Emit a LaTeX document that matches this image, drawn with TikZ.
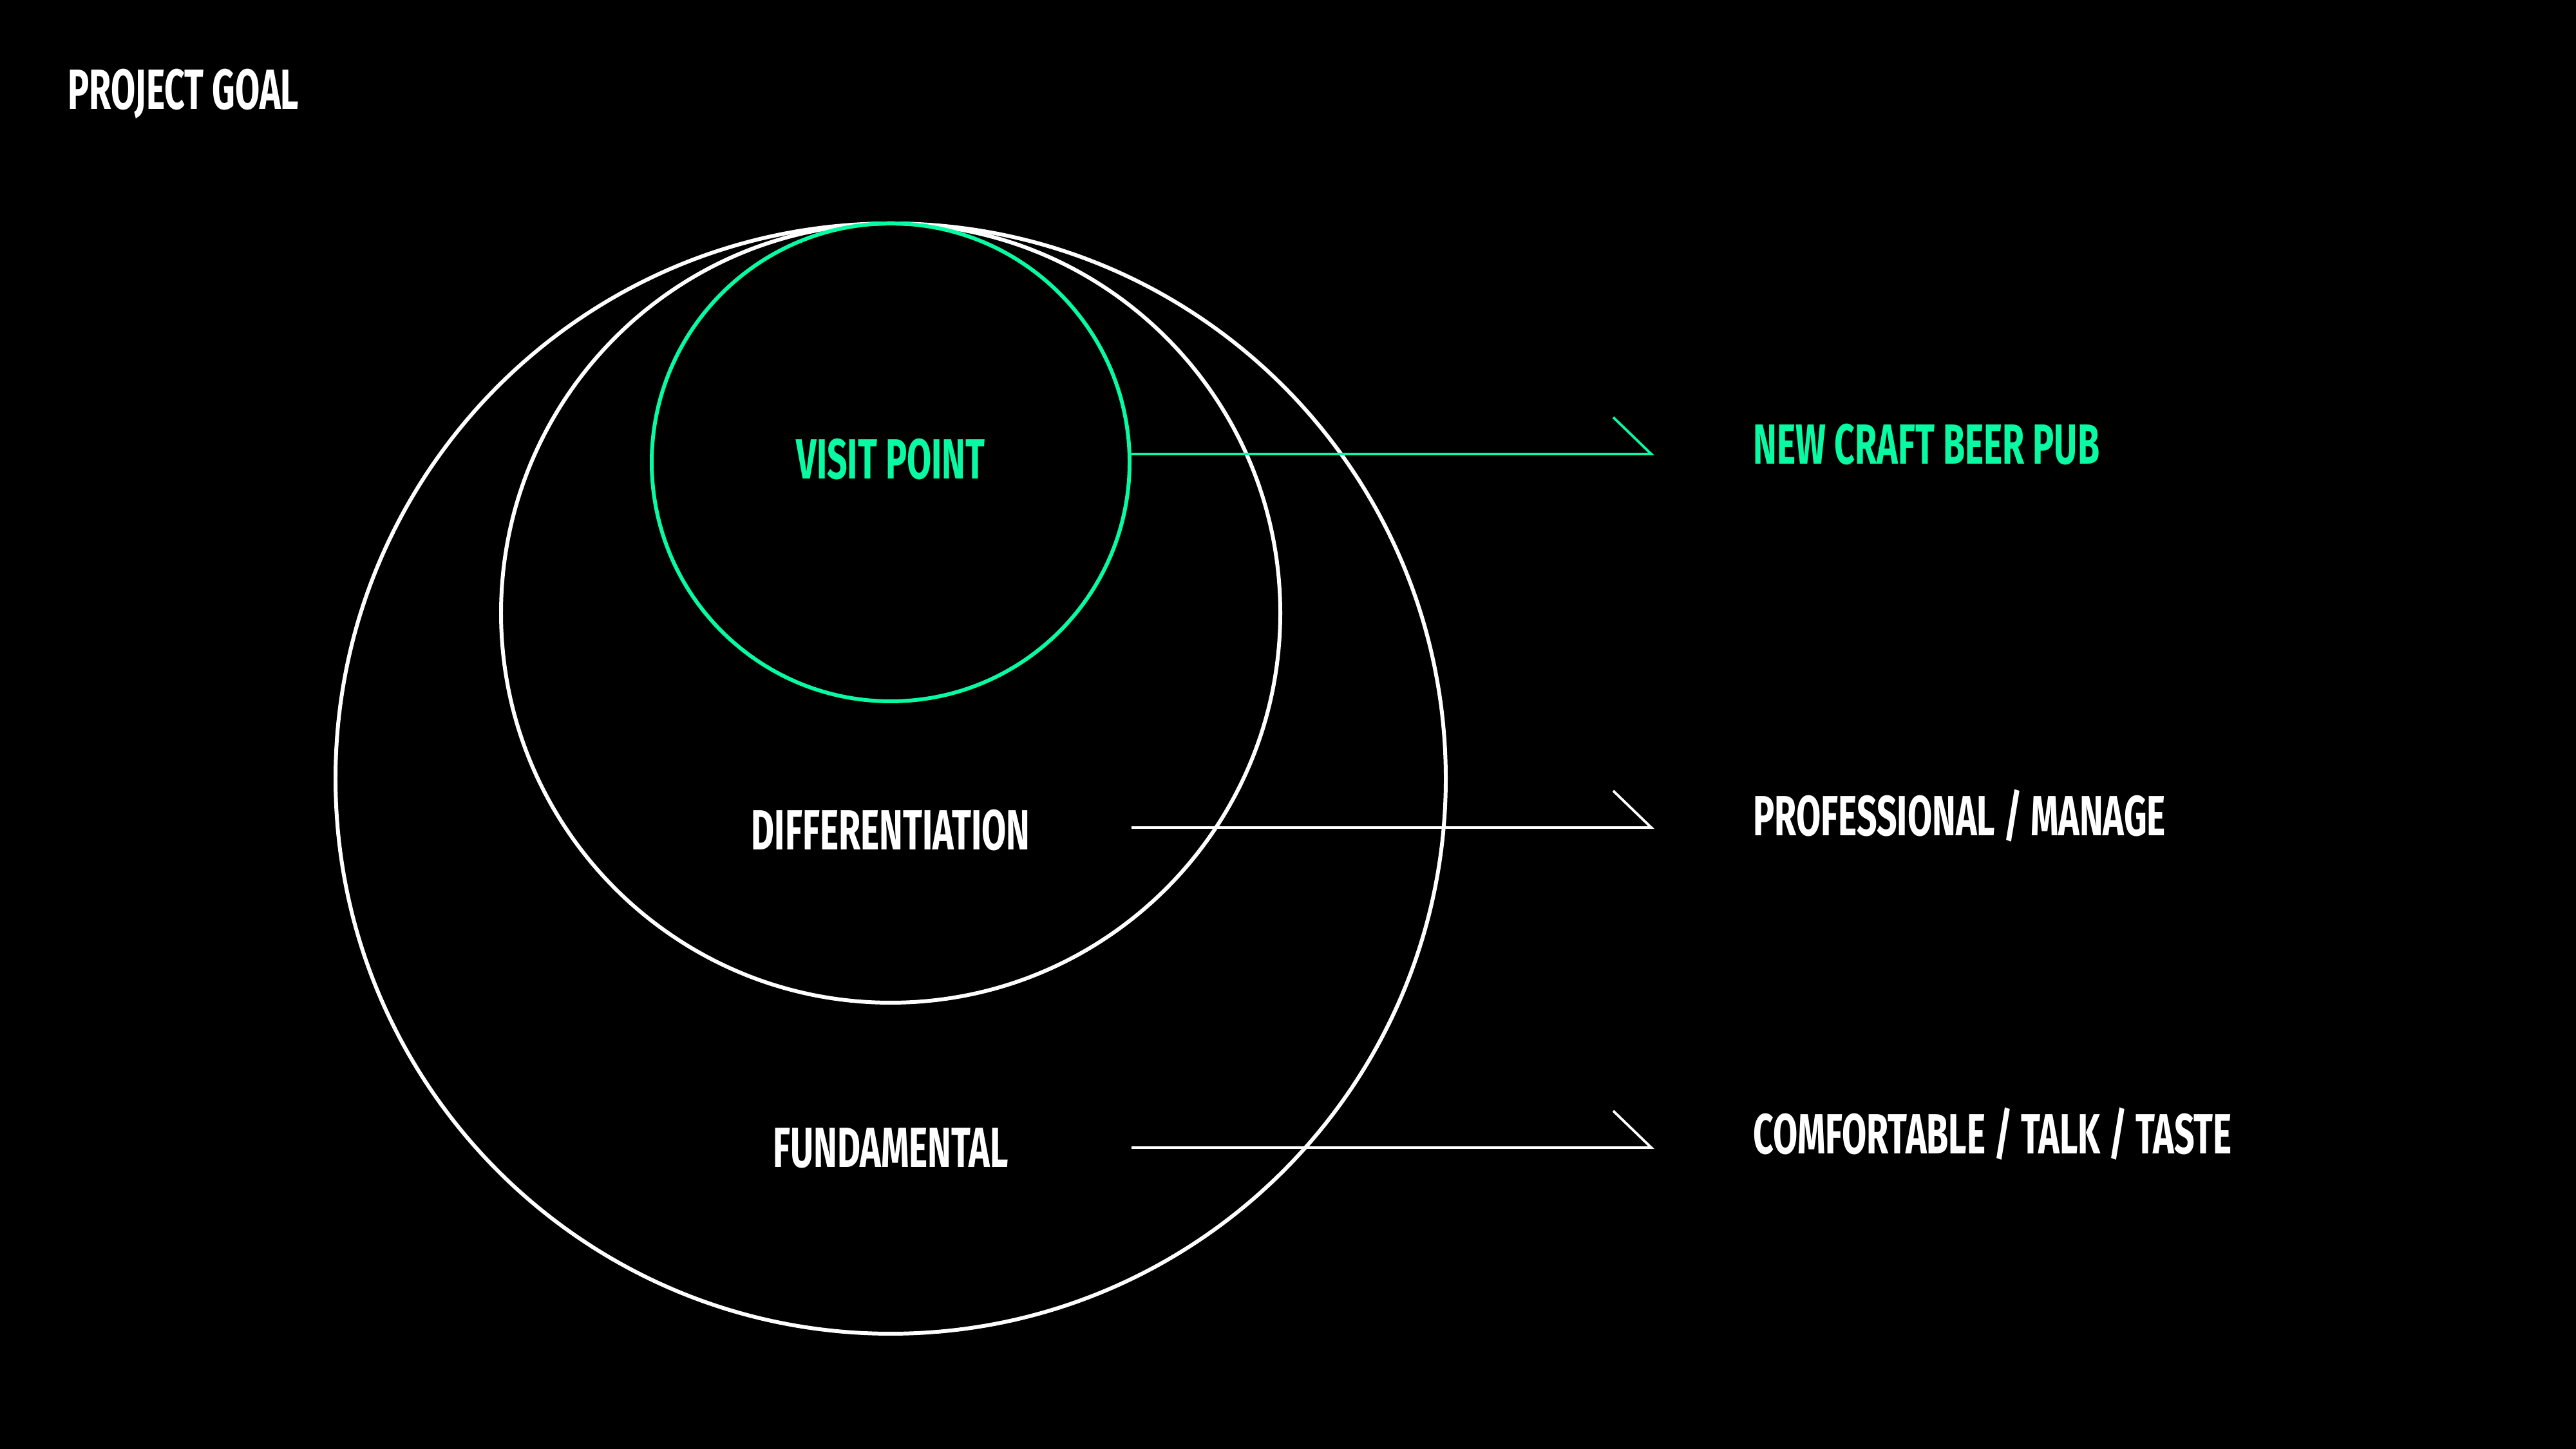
\documentclass[tikz,border=0pt]{standalone}
\usepackage{fontspec}
\setmainfont{Fira Sans}[FakeStretch=0.63]
\usetikzlibrary{positioning}

\definecolor{mint}{RGB}{8,250,163}

\tikzset{
    ring/.style={draw=white, circle, line width=1.7pt, inner sep=0pt},
    lead/.style={line width=1.1pt},
    tag/.style={font=\fontsize{25}{30}\selectfont\bfseries, inner sep=0pt},
}

\begin{document}
\begin{tikzpicture}
            \fill[black] (0,0) rectangle (40,22.5); % backdrop, fixes the page size
            \useasboundingbox (0,0) rectangle (40,22.5);

            \node[tag, text=white, anchor=base west] (goal) at (1.05,20.80) {PROJECT GOAL};

            % three circles, all touching at the top
            \node[ring, minimum size=17.24cm] (outer) at (13.83,10.41) {};
            \node[ring, minimum size=12.10cm] (middle) at (13.83,12.98) {};
            \node[ring, draw=mint, minimum size=7.42cm] (visit) at (13.83,15.32) {};

            \node[tag, text=mint, anchor=base] (visitlbl) at (13.83,15.06) {VISIT POINT};
            \node[tag, text=white, anchor=base] (difflbl) at (13.83,9.30) {DIFFERENTIATION};
            \node[tag, text=white, anchor=base] (fundlbl) at (13.83,4.37) {FUNDAMENTAL};

            \foreach \name/\y/\col in {craft/15.45/mint, manage/9.65/white, taste/4.68/white}{ % one leader per level
                    \coordinate (\name-end) at (25.64,\y);
                    \draw[lead, \col] (visit.east |- \name-end) -- (\name-end) -- ++(-0.59,0.57); % line with a hook
                }

            \node[tag, text=mint, anchor=base west] (craft) at (27.22,15.29) {NEW CRAFT BEER PUB};
            \node[tag, text=white, anchor=base west] (manage) at (27.22,9.52) {PROFESSIONAL / MANAGE};
            \node[tag, text=white, anchor=base west] (taste) at (27.22,4.58) {COMFORTABLE / TALK / TASTE};
        \end{tikzpicture}
\end{document}
